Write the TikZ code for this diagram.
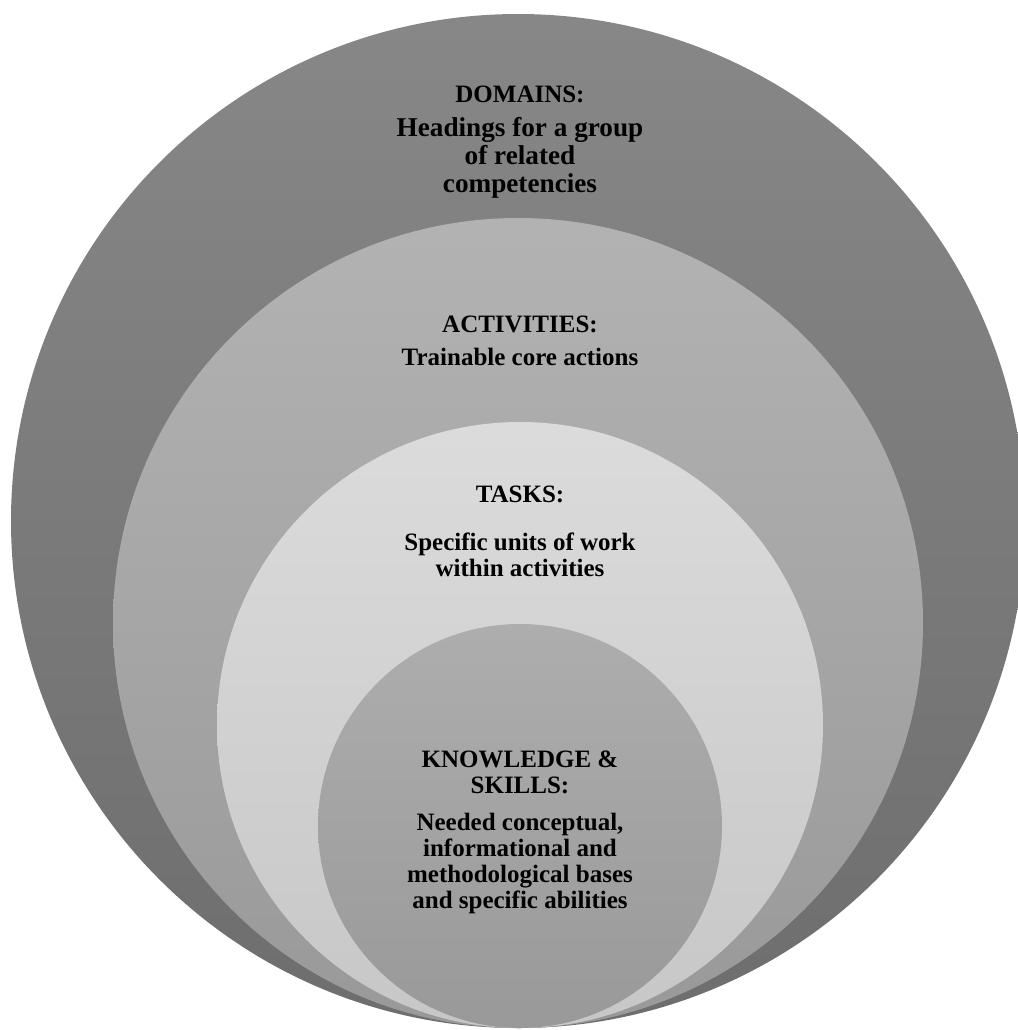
\documentclass[tikz,border=0pt]{standalone}
\usepackage{fontspec}
\setmainfont{Liberation Serif}
\usepackage{tikz}
\usetikzlibrary{positioning}

\begin{document}
\begin{tikzpicture}[
		x=0.5pt, y=-0.5pt,
		ring/.style={circle, draw=none, inner sep=0pt, minimum size=#1},
		lbl/.style={anchor=base, inner sep=0pt, align=center,
			font=\bfseries\fontsize{12.5}{13}\selectfont}
	]

	\useasboundingbox (0,0) rectangle (1018,1030);
	\clip (0,0) rectangle (1018,1030);

	% nested rings, all touching at the bottom
	\node[ring=507pt, top color=black!47, bottom color=black!57] (dom) at (518,521) {};
	\node[ring=405pt, top color=black!30, bottom color=black!40] (act) at (518,623) {};
	\node[ring=303pt, top color=black!14, bottom color=black!22] (task) at (520,725) {};
	\node[ring=202pt, top color=black!32, bottom color=black!40] (know) at (520,826) {};

	% titles and descriptions
	\node[lbl] (domhead) at (520,102) {DOMAINS:};
	\node[lbl, anchor=north, font=\bfseries\fontsize{13.6}{14}\selectfont] (domtxt) at (520,117)
		{Headings for a group\\ of related\\ competencies};
	\node[lbl] (acthead) at (520,332) {ACTIVITIES:};
	\node[lbl] (acttxt) at (520,365) {Trainable core actions};
	\node[lbl] (taskhead) at (520,502) {TASKS:};
	\node[lbl, anchor=north] (tasktxt) at (520,532) {Specific units of work\\ within activities};
	\node[lbl, anchor=north] (knowhead) at (520,750) {KNOWLEDGE \&\\ SKILLS:};
	\node[lbl, anchor=north] (knowtxt) at (520,813) {Needed conceptual,\\ informational and\\
		methodological bases\\ and specific abilities};
\end{tikzpicture}
\end{document}
